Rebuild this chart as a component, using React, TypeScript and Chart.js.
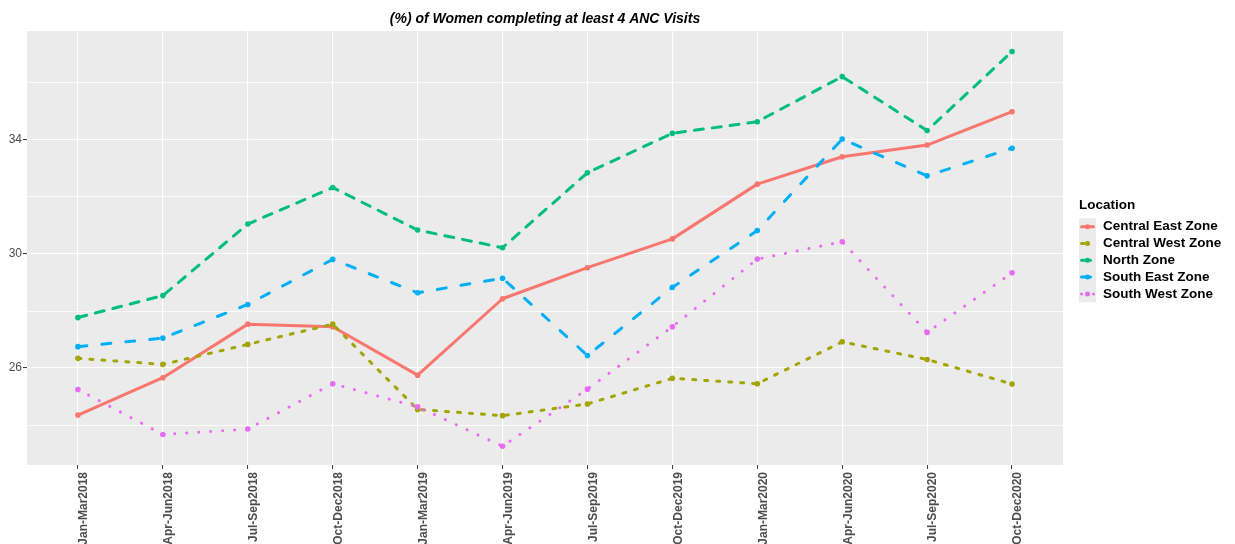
import React, { useEffect, useRef } from "react";
import { Chart, registerables } from "chart.js";

Chart.register(...registerables);

const categories = [
  "Jan-Mar2018", "Apr-Jun2018", "Jul-Sep2018", "Oct-Dec2018",
  "Jan-Mar2019", "Apr-Jun2019", "Jul-Sep2019", "Oct-Dec2019",
  "Jan-Mar2020", "Apr-Jun2020", "Jul-Sep2020", "Oct-Dec2020",
];

const centralEast = [24.35, 25.66, 27.54, 27.45, 25.75, 28.43, 29.52, 30.53, 32.45, 33.41, 33.82, 34.99];
const centralWest = [26.34, 26.13, 26.83, 27.54, 24.55, 24.33, 24.74, 25.64, 25.45, 26.92, 26.30, 25.44];
const northZone = [27.77, 28.54, 31.05, 32.33, 30.84, 30.22, 32.85, 34.23, 34.64, 36.22, 34.33, 37.10];
const southEast = [26.75, 27.05, 28.23, 29.81, 28.64, 29.15, 26.44, 28.83, 30.82, 34.03, 32.74, 33.71];
const southWest = [25.25, 23.67, 23.86, 25.45, 24.64, 23.26, 25.26, 27.45, 29.82, 30.43, 27.25, 29.34];

const seriesNames = ["Central East Zone", "Central West Zone", "North Zone", "South East Zone", "South West Zone"];
const seriesValues = [centralEast, centralWest, northZone, southEast, southWest];
const seriesColors = ["#F8766D", "#A3A500", "#00BF7D", "#00B0F6", "#E76BF3"];
const seriesDashes: number[][] = [[], [3, 9], [9, 9], [9, 15], [0.1, 11.9]];

const majorYTicks = [26, 30, 34];
const allYTicks = [24, 26, 28, 30, 32, 34, 36];

const titleText = "(%) of Women completing at least 4 ANC Visits";
const legendTitle = "Location";

const FONT = "'Liberation Sans', Arial, Helvetica, sans-serif";

const bgPlugin = {
  id: "panelBg",
  beforeDraw(chart: any) {
    const { ctx, chartArea } = chart;
    ctx.save();
    ctx.fillStyle = "#EBEBEB";
    ctx.fillRect(chartArea.left, chartArea.top, chartArea.right - chartArea.left, chartArea.bottom - chartArea.top);
    ctx.restore();
  },
};

const titleLegendPlugin = {
  id: "titleLegend",
  afterDraw(chart: any) {
    const { ctx, chartArea } = chart;
    ctx.save();
    // title
    ctx.font = `italic bold 14px ${FONT}`;
    ctx.fillStyle = "#000";
    ctx.textAlign = "center";
    ctx.textBaseline = "middle";
    ctx.fillText(titleText, (chartArea.left + chartArea.right) / 2, 19);

    // legend
    const lx = chartArea.right + 16;
    ctx.textAlign = "left";
    ctx.font = `bold 13.5px ${FONT}`;
    ctx.fillStyle = "#000";
    ctx.fillText(legendTitle, lx, 205);

    const rowH = 16.8;
    const y0 = 226.7;
    const keyW = 17;
    ctx.fillStyle = "#EBEBEB";
    ctx.fillRect(lx, y0 - rowH / 2, keyW, rowH * seriesNames.length);

    chart.data.datasets.forEach((ds: any, i: number) => {
      const y = y0 + i * rowH;
      ctx.save();
      ctx.strokeStyle = ds.borderColor;
      ctx.lineWidth = 3;
      ctx.lineCap = "round";
      ctx.setLineDash(ds.borderDash || []);
      ctx.beginPath();
      ctx.moveTo(lx + 2.5, y);
      ctx.lineTo(lx + keyW - 2.5, y);
      ctx.stroke();
      ctx.setLineDash([]);
      ctx.fillStyle = ds.borderColor;
      ctx.beginPath();
      ctx.arc(lx + keyW / 2, y, 2.5, 0, Math.PI * 2);
      ctx.fill();
      ctx.restore();

      ctx.font = `bold 13.5px ${FONT}`;
      ctx.fillStyle = "#000";
      ctx.textAlign = "left";
      ctx.textBaseline = "middle";
      ctx.fillText(ds.label, lx + keyW + 7, y);
    });
    ctx.restore();
  },
};

export default function App() {
  const canvasRef = useRef<HTMLCanvasElement | null>(null);

  useEffect(() => {
    if (!canvasRef.current) return;
    const datasets = seriesNames.map((name, i) => ({
      label: name,
      data: seriesValues[i].map((v, j) => ({ x: j, y: v })),
      borderColor: seriesColors[i],
      backgroundColor: seriesColors[i],
      pointBackgroundColor: seriesColors[i],
      pointBorderWidth: 0,
      pointRadius: 2.8,
      borderWidth: 3,
      borderDash: seriesDashes[i],
      borderCapStyle: "round" as const,
      borderJoinStyle: "round" as const,
      tension: 0,
      order: seriesNames.length - i,
    }));

    const chart = new Chart(canvasRef.current, {
      type: "line",
      data: { datasets },
      plugins: [bgPlugin, titleLegendPlugin],
      options: {
        animation: false,
        responsive: false,
        devicePixelRatio: 1,
        layout: { padding: { left: 0, top: 31, right: 172, bottom: 0 } },
        plugins: {
          legend: { display: false },
          title: { display: false },
          tooltip: { enabled: false },
        },
        scales: {
          x: {
            type: "linear",
            min: -0.6,
            max: 11.6,
            afterBuildTicks: (axis: any) => {
              axis.ticks = categories.map((_, i) => ({ value: i }));
            },
            afterFit: (axis: any) => {
              axis.height = 79;
            },
            border: { display: false },
            grid: {
              color: "#FFFFFF",
              lineWidth: 1.1,
              drawTicks: true,
              tickLength: 4,
              tickColor: "#333333",
              tickWidth: 1,
            },
            ticks: {
              autoSkip: false,
              maxRotation: 90,
              minRotation: 90,
              padding: 3,
              labelOffset: 6,
              color: "#4D4D4D",
              font: { family: FONT, size: 12, weight: "bold" },
              callback: (v: any) => categories[Math.round(Number(v))] ?? "",
            },
          },
          y: {
            type: "linear",
            min: 22.6,
            max: 37.82,
            afterBuildTicks: (axis: any) => {
              axis.ticks = allYTicks.map((v) => ({ value: v }));
            },
            afterFit: (axis: any) => {
              axis.width = 27;
            },
            border: { display: false },
            grid: {
              color: "#FFFFFF",
              lineWidth: (c: any) => (majorYTicks.includes(c.tick?.value) ? 1.1 : 0.8),
              drawTicks: true,
              tickLength: 4,
              tickColor: (c: any) => (majorYTicks.includes(c.tick?.value) ? "#333333" : "rgba(0,0,0,0)"),
              tickWidth: 1,
            },
            ticks: {
              padding: 1,
              color: "#4D4D4D",
              font: { family: FONT, size: 12 },
              callback: (v: any) => (majorYTicks.includes(Number(v)) ? String(v) : ""),
            },
          },
        },
      },
    });
    return () => chart.destroy();
  }, []);

  return (
    <div style={{ position: "absolute", left: 0, top: 0, width: 1235, height: 544, background: "#fff" }}>
      <canvas ref={canvasRef} width={1235} height={544} style={{ width: 1235, height: 544, display: "block" }} />
    </div>
  );
}
